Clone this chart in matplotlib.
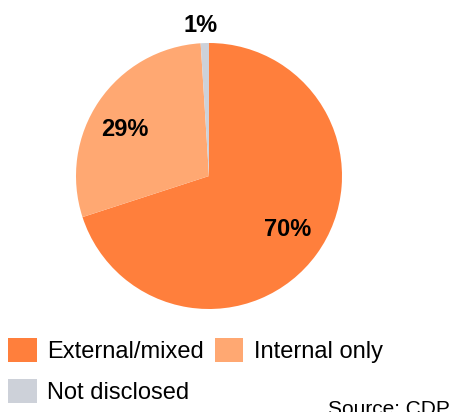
import matplotlib.pyplot as plt

# datos del grafico
categorias = ['External/mixed', 'Internal only', 'Not disclosed']
porcentajes = [70, 29, 1]
colores = ['#FF7F3C', '#FFA872', '#CDD1D9']
etiquetas = ['70%', '29%', '1%']

plt.rcParams['font.family'] = ['Liberation Sans', 'DejaVu Sans']

fig = plt.figure(figsize=(4.51, 4.12), dpi=100)

# eje del pastel: centro ~ (209, 176) px, radio ~133 px
cx, cy, r = 209 / 451, 1 - 176 / 412, 133
ax = fig.add_axes([cx - r / 451, cy - r / 412, 2 * r / 451, 2 * r / 412])
wedges, _ = ax.pie(porcentajes, colors=colores, startangle=90, counterclock=False,
                   radius=1.0, wedgeprops=dict(linewidth=0))
ax.set_xlim(-1, 1)
ax.set_ylim(-1, 1)
ax.set_aspect('auto')
ax.axis('off')

# posiciones de las etiquetas (en unidades del radio)
pos_etiquetas = [(0.59, -0.40), (-0.63, 0.35), (-0.06, 1.13)]
for txt, (x, y) in zip(etiquetas, pos_etiquetas):
    ax.text(x, y, txt, ha='center', va='center', fontsize=17, fontweight='bold',
            color='black', clip_on=False)

# leyenda: se llena por columnas, asi que reordenamos para que quede por filas
orden = [0, 2, 1]
fig.legend([wedges[i] for i in orden], [categorias[i] for i in orden],
           loc='upper left', bbox_to_anchor=(0.008, 1 - 333 / 412),
           ncol=2, frameon=False, fontsize=17, handlelength=1.2, handleheight=1.2,
           handletextpad=0.45, columnspacing=0.45, labelspacing=0.68,
           borderpad=0.2, borderaxespad=0)

# el texto de la fuente queda cortado en el borde inferior, como en el original
fig.text(1 - 1 / 451, 1 - 400 / 412, 'Source: CDP', ha='right', va='top', fontsize=15)

fig.savefig('out.png', dpi=100)
